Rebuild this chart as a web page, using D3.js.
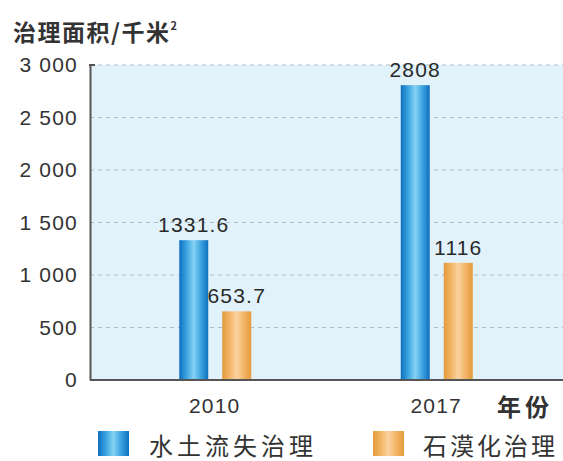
<!DOCTYPE html>
<html>
<head>
<meta charset="utf-8">
<script src="https://cdn.jsdelivr.net/npm/d3@7"></script>
<style>
  html, body { margin: 0; padding: 0; background: #ffffff; }
  svg { display: block; }
  text { font-family: "Liberation Sans", Arial, "Noto Sans CJK SC", sans-serif; }
  .cjk { font-family: "Noto Sans CJK SC", "Noto Sans CJK JP", sans-serif; }
</style>
</head>
<body>
<svg id="chart" width="563" height="461"></svg>
<script>
// Area treated (thousand km²) by year and type of treatment
const years = ["2010", "2017"];
const seriesNames = ["水土流失治理", "石漠化治理"];
const soilErosion = [1331.6, 2808];
const rockyDesert = [653.7, 1116];
const valueLabels = [["1331.6", "653.7"], ["2808", "1116"]];
const yTicks = [0, 500, 1000, 1500, 2000, 2500, 3000];
const yTickLabels = ["0", "500", "1 000", "1 500", "2 000", "2 500", "3 000"];

const svg = d3.select("#chart");
const plot = { left: 90, right: 563, top: 65, bottom: 380 };

const y = d3.scaleLinear().domain([0, 3000]).range([plot.bottom, plot.top]);
const x = d3.scaleBand().domain(years).range([104, 547]).padding(0);
const inner = d3.scaleBand().domain(seriesNames).range([-35.5, 36.5]).paddingInner(0.326).paddingOuter(0);

// gradients giving the bars a rounded, cylinder-like shading
const defs = svg.append("defs");
function barGradient(id, edge, mid, light) {
  const g = defs.append("linearGradient").attr("id", id)
    .attr("x1", "0%").attr("x2", "100%").attr("y1", "0%").attr("y2", "0%");
  g.append("stop").attr("offset", "0%").attr("stop-color", edge);
  g.append("stop").attr("offset", "25%").attr("stop-color", mid);
  g.append("stop").attr("offset", "50%").attr("stop-color", light);
  g.append("stop").attr("offset", "75%").attr("stop-color", mid);
  g.append("stop").attr("offset", "100%").attr("stop-color", edge);
}
barGradient("gBlue", "#0f6fbf", "#3aa3e0", "#86d2f3");
barGradient("gOrange", "#e49a3c", "#f2b566", "#fad2a0");
const fills = ["url(#gBlue)", "url(#gOrange)"];

// plot background
svg.append("rect")
  .attr("x", plot.left).attr("y", plot.top)
  .attr("width", plot.right - plot.left).attr("height", plot.bottom - plot.top)
  .attr("fill", "#e1f2fb");

// dashed gridlines
svg.append("g").selectAll("line")
  .data(yTicks.filter(d => d > 0))
  .join("line")
  .attr("x1", plot.left).attr("x2", plot.right)
  .attr("y1", d => y(d)).attr("y2", d => y(d))
  .attr("stroke", "#aebdc8").attr("stroke-width", 1)
  .attr("stroke-dasharray", "4,4");

// y axis
const yAxis = svg.append("g").attr("transform", `translate(${plot.left},0)`)
  .call(d3.axisLeft(y).tickValues(yTicks).tickSize(0).tickPadding(12)
    .tickFormat((d, i) => yTickLabels[i]));
yAxis.select(".domain").attr("stroke", "#555").attr("stroke-width", 2);
yAxis.selectAll("text").attr("font-size", 21).attr("letter-spacing", 1.2).attr("fill", "#333")
  .attr("font-family", "Liberation Sans, Arial, sans-serif");
// small tick at the top
svg.append("line").attr("x1", plot.left - 1).attr("x2", plot.left + 5)
  .attr("y1", y(3000)).attr("y2", y(3000)).attr("stroke", "#555").attr("stroke-width", 2);

// bars
const groups = svg.append("g").selectAll("g")
  .data(years.map((yr, i) => ({ yr, vals: [soilErosion[i], rockyDesert[i]], labels: valueLabels[i] })))
  .join("g")
  .attr("transform", d => `translate(${x(d.yr) + x.bandwidth() / 2},0)`);

groups.selectAll("rect")
  .data(d => d.vals.map((v, k) => ({ v, k })))
  .join("rect")
  .attr("x", d => inner(seriesNames[d.k]))
  .attr("width", inner.bandwidth())
  .attr("y", d => y(d.v))
  .attr("height", d => y(0) - y(d.v))
  .attr("fill", d => fills[d.k]);

groups.selectAll("text.val")
  .data(d => d.vals.map((v, k) => ({ v, k, label: d.labels[k] })))
  .join("text")
  .attr("class", "val")
  .attr("x", d => inner(seriesNames[d.k]) + inner.bandwidth() / 2)
  .attr("y", d => y(d.v) - 8)
  .attr("text-anchor", "middle")
  .attr("font-size", 21)
  .attr("letter-spacing", 1.2)
  .attr("fill", "#2a2a2a")
  .text(d => d.label);

// x axis
const xAxis = svg.append("g").attr("transform", `translate(0,${plot.bottom})`)
  .call(d3.axisBottom(x).tickSize(0).tickPadding(18));
xAxis.select(".domain").remove();
svg.append("line").attr("x1", plot.left).attr("x2", plot.right)
  .attr("y1", plot.bottom).attr("y2", plot.bottom)
  .attr("stroke", "#555").attr("stroke-width", 2);
xAxis.selectAll("text").attr("font-size", 21).attr("letter-spacing", 1.2).attr("fill", "#333")
  .attr("font-family", "Liberation Sans, Arial, sans-serif");

// axis titles
svg.append("text").attr("class", "cjk")
  .attr("x", 13).attr("y", 41)
  .attr("font-size", 23).attr("letter-spacing", 1.5).attr("font-weight", "bold").attr("fill", "#333")
  .text("治理面积/千米")
  .append("tspan").attr("font-size", 11).attr("dy", -11).text("2");

svg.append("text").attr("class", "cjk")
  .attr("x", 497).attr("y", 416)
  .attr("font-size", 24).attr("letter-spacing", 4).attr("font-weight", "bold").attr("fill", "#333")
  .text("年份");

// legend
const legendItems = [
  { name: seriesNames[0], fill: fills[0], sx: 98, tx: 149, ls: 4 },
  { name: seriesNames[1], fill: fills[1], sx: 373, tx: 423, ls: 3 }
];
const lg = svg.append("g").selectAll("g").data(legendItems).join("g");
lg.append("rect")
  .attr("x", d => d.sx).attr("y", 431)
  .attr("width", 31).attr("height", 25)
  .attr("fill", d => d.fill);
lg.append("text").attr("class", "cjk")
  .attr("x", d => d.tx).attr("y", 455)
  .attr("font-size", 24).attr("letter-spacing", d => d.ls).attr("fill", "#333")
  .text(d => d.name);
</script>
</body>
</html>
